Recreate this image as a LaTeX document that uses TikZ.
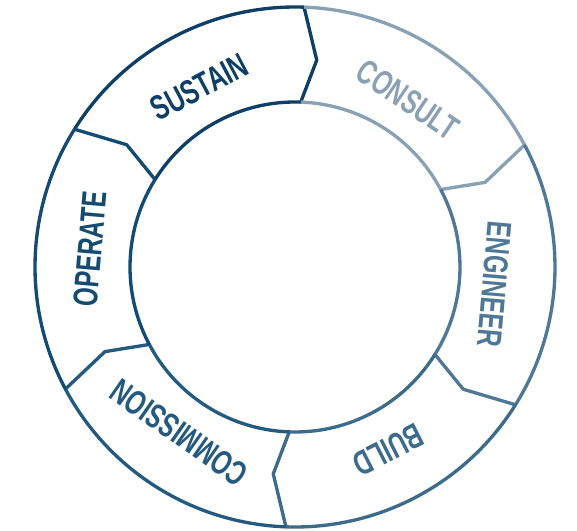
\documentclass[tikz,border=0pt]{standalone}
\usepackage{fontspec}
\newfontfamily\ringfont[FakeStretch=0.7]{Liberation Sans}
\definecolor{sustaincol}{HTML}{0E3F66}
\definecolor{consultcol}{HTML}{8AA1B3}
\definecolor{engineercol}{HTML}{4F7896}
\definecolor{buildcol}{HTML}{3D6B8C}
\definecolor{commissioncol}{HTML}{245A7F}
\definecolor{operatecol}{HTML}{144B72}

\begin{document}
\begin{tikzpicture}[
    seg/.style={line width=0.95pt, line join=round},
    lbl/.style={font=\ringfont\bfseries\fontsize{9.8}{11}\selectfont, inner sep=0pt}
    ]
    \useasboundingbox (-2.95,-2.64) rectangle (2.82,2.67);

    % ring segments, each one ends in a chevron pointing clockwise
    \draw[seg, sustaincol] (148:2.6) arc[start angle=148, end angle=88, radius=2.6] -- (84:2.08) -- (88:1.65) arc[start angle=88, end angle=148, radius=1.65];
    \draw[seg, consultcol] (88:2.6) arc[start angle=88, end angle=28, radius=2.6] -- (24:2.08) -- (28:1.65) arc[start angle=28, end angle=88, radius=1.65];
    \draw[seg, engineercol] (28:2.6) arc[start angle=28, end angle=-32, radius=2.6] -- (-36:2.08) -- (-32:1.65) arc[start angle=-32, end angle=28, radius=1.65];
    \draw[seg, buildcol] (-32:2.6) arc[start angle=-32, end angle=-92, radius=2.6] -- (-96:2.08) -- (-92:1.65) arc[start angle=-92, end angle=-32, radius=1.65];
    \draw[seg, commissioncol] (-92:2.6) arc[start angle=-92, end angle=-152, radius=2.6] -- (-156:2.08) -- (-152:1.65) arc[start angle=-152, end angle=-92, radius=1.65];
    \draw[seg, operatecol] (-152:2.6) arc[start angle=-152, end angle=-212, radius=2.6] -- (-216:2.08) -- (-212:1.65) arc[start angle=-212, end angle=-152, radius=1.65];

    % labels
    \node[lbl, sustaincol, rotate=28] (sustain) at (118:2.04) {SUSTAIN};
    \node[lbl, consultcol, rotate=-34] (consult) at (56:2.02) {CONSULT};
    \node[lbl, engineercol, rotate=-95] (engineer) at (-5:2.0) {ENGINEER};
    \node[lbl, buildcol, rotate=-153] (build) at (-63:2.05) {BUILD};
    \node[lbl, commissioncol, rotate=145] (commission) at (-125:2.02) {COMMISSION};
    \node[lbl, operatecol, rotate=85] (operate) at (175:2.06) {OPERATE};

\end{tikzpicture}
\end{document}
